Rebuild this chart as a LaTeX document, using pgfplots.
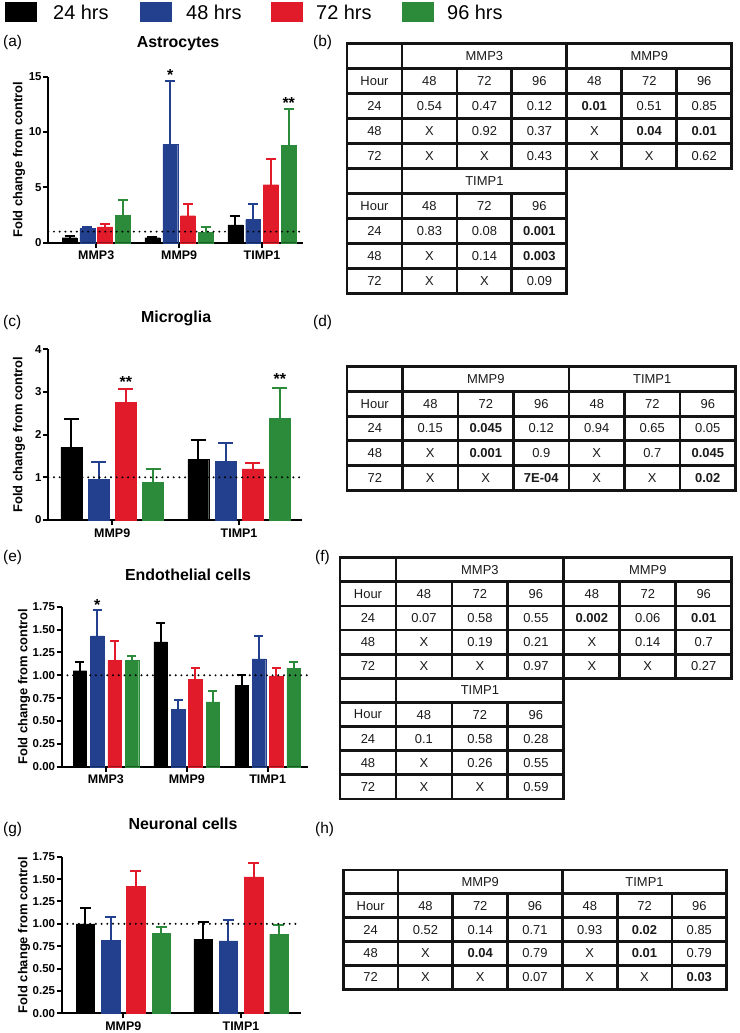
\documentclass[border=0pt]{standalone}
\usepackage{pgfplots}
\pgfplotsset{compat=1.18}
\usepackage{fontspec}
\setmainfont{Liberation Sans}
\definecolor{c24}{HTML}{000000}
\definecolor{c48}{HTML}{23408E}
\definecolor{c72}{HTML}{E21B2B}
\definecolor{c96}{HTML}{2C8B3A}
\definecolor{tabline}{HTML}{141414}
\definecolor{tabtext}{HTML}{1A1A1A}
\newcommand{\ylf}{\bfseries\fontsize{13}{13}\selectfont}
\newcommand{\xtf}{\bfseries\fontsize{12.5}{12.5}\selectfont}
\newcommand{\ytf}{\bfseries\fontsize{11.5}{11.5}\selectfont}

\pgfplotsset{
  panel/.style={
    scale only axis, ybar, enlargelimits=false, clip=false,
    axis x line*=bottom, axis y line*=left,
    axis line style={line width=2.2bp, black, -},
    tick align=outside, major tick length=5bp,
    tick style={line width=2bp, black},
    xtick={0,1,2},
    yticklabel style={font=\ytf, inner sep=1.5bp},
    xticklabel style={font=\xtf},
    ylabel={\ylf Fold change from control},
    ylabel style={font=\ylf, anchor=center},
    title style={font=\bfseries\fontsize{16}{16}\selectfont, at={(axis description cs:0.5,1)}, anchor=center},
  },
  eb/.style={error bars/.cd, y dir=plus, y explicit,
    error bar style={line width=2bp, draw=#1},
    error mark options={rotate=90, line width=2bp, draw=#1, mark size=\capsize}},
  b24/.style={fill=c24, draw=c24, bar shift=-0.322, eb=c24},
  b48/.style={fill=c48, draw=c48, bar shift=-0.107, eb=c48},
  b72/.style={fill=c72, draw=c72, bar shift=0.107, eb=c72},
  b96/.style={fill=c96, draw=c96, bar shift=0.322, eb=c96},
  refline/.style={sharp plot, draw=black, line width=2.2bp, dash pattern=on 0bp off 5.7bp, line cap=round, forget plot},
}
\newcommand{\capsize}{5bp}
\newcommand{\trow}[8]{\node at (0.5,#1+0.5) {#2}; \node at (1.5,#1+0.5) {#3}; \node at (2.5,#1+0.5) {#4}; \node at (3.5,#1+0.5) {#5}; \node at (4.5,#1+0.5) {#6}; \node at (5.5,#1+0.5) {#7}; \node at (6.5,#1+0.5) {#8};}
\newcommand{\trowf}[5]{\node at (0.5,#1+0.5) {#2}; \node at (1.5,#1+0.5) {#3}; \node at (2.5,#1+0.5) {#4}; \node at (3.5,#1+0.5) {#5};}
\newcommand{\biggrid}{%
  \foreach \r in {0,...,5} \draw (0,\r) -- (7,\r);
  \foreach \r in {6,...,10} \draw (0,\r) -- (4,\r);
  \foreach \c in {0,1,4} \draw (\c,0) -- (\c,10);
  \draw (7,0) -- (7,5);
  \foreach \c in {2,3} {\draw (\c,1) -- (\c,5); \draw (\c,6) -- (\c,10);}
  \foreach \c in {5,6} \draw (\c,1) -- (\c,5);
}
\newcommand{\smallgrid}{%
  \foreach \r in {0,...,5} \draw (0,\r) -- (7,\r);
  \foreach \c in {0,1,4,7} \draw (\c,0) -- (\c,5);
  \foreach \c in {2,3,5,6} \draw (\c,1) -- (\c,5);
}
\tikzset{tab/.style={line width=2.8bp, draw=tabline, line cap=rect,
  nodes={font=\fontsize{13}{13}\selectfont, inner sep=0pt, text=tabtext}},
  plab/.style={anchor=west, inner sep=0pt, font=\fontsize{15.5}{15.5}\selectfont},
  star/.style={font=\bfseries\fontsize{16}{16}\selectfont, yshift=-3.4bp}}

\begin{document}
\begin{tikzpicture}
\path[use as bounding box] (0,0) rectangle (740bp,-1033bp);

% legend
\fill[c24] (5bp,-2bp) rectangle (37bp,-22bp);
\node[anchor=west, inner sep=0pt, font=\fontsize{20}{20}\selectfont] at (53bp,-12bp) {24 hrs};
\fill[c48] (140bp,-2bp) rectangle (172bp,-22bp);
\node[anchor=west, inner sep=0pt, font=\fontsize{20}{20}\selectfont] at (186bp,-12bp) {48 hrs};
\fill[c72] (271bp,-2bp) rectangle (303bp,-22bp);
\node[anchor=west, inner sep=0pt, font=\fontsize{20}{20}\selectfont] at (316bp,-12bp) {72 hrs};
\fill[c96] (402bp,-2bp) rectangle (434bp,-22bp);
\node[anchor=west, inner sep=0pt, font=\fontsize{20}{20}\selectfont] at (447bp,-12bp) {96 hrs};

% panel labels
\node[plab] at (3bp,-43bp) {(a)};
\node[plab] at (313bp,-43bp) {(b)};
\node[plab] at (3bp,-322bp) {(c)};
\node[plab] at (313bp,-322bp) {(d)};
\node[plab] at (3bp,-557bp) {(e)};
\node[plab] at (315bp,-557bp) {(f)};
\node[plab] at (3bp,-829bp) {(g)};
\node[plab] at (315bp,-829bp) {(h)};

% (a) Astrocytes
\renewcommand{\capsize}{5bp}
\begin{axis}[panel, at={(48.3bp,-242.7bp)}, anchor=south west,
  width=254.7bp, height=166bp, xmin=-0.578, xmax=2.494, ymin=0, ymax=15,
  ytick={0,5,10,15}, yticklabels={0,5,10,15}, xticklabels={MMP3,MMP9,TIMP1},
  bar width=0.18, title={Astrocytes}, title style={yshift=26.7bp, xshift=2.4bp},
  ylabel style={at={(axis description cs:-0.115,0.5)}}]
\addplot[b24] coordinates {(0,0.45) +- (0,0.15) (1,0.45) +- (0,0.1) (2,1.6) +- (0,0.78)};
\addplot[b48] coordinates {(0,1.27) +- (0,0.18) (1,8.86) +- (0,5.78) (2,2.08) +- (0,1.42)};
\addplot[b72] coordinates {(0,1.42) +- (0,0.28) (1,2.44) +- (0,1.06) (2,5.24) +- (0,2.36)};
\addplot[b96] coordinates {(0,2.5) +- (0,1.35) (1,0.93) +- (0,0.52) (2,8.8) +- (0,3.25)};
\addplot[refline] coordinates {(-0.578,1) (2.494,1)};
\node[star] at (axis cs:0.893,15.45) {*};
\node[star] at (axis cs:2.322,12.9) {**};
\end{axis}

% (c) Microglia
\renewcommand{\capsize}{7.5bp}
\begin{axis}[panel, at={(48.3bp,-520bp)}, anchor=south west,
  width=253.7bp, height=170.7bp, xmin=-0.504, xmax=1.496, ymin=0, ymax=4,
  ytick={0,1,2,3,4}, yticklabels={0,1,2,3,4}, xtick={0,1}, xticklabels={MMP9,TIMP1},
  bar width=0.165, title={Microglia}, title style={yshift=25.3bp, xshift=1bp},
  ylabel style={at={(axis description cs:-0.1155,0.5)}}]
\addplot[b24] coordinates {(0,1.70) +- (0,0.66) (1,1.42) +- (0,0.46)};
\addplot[b48] coordinates {(0,0.96) +- (0,0.39) (1,1.375) +- (0,0.425)};
\addplot[b72] coordinates {(0,2.76) +- (0,0.31) (1,1.2) +- (0,0.13)};
\addplot[b96] coordinates {(0,0.89) +- (0,0.31) (1,2.39) +- (0,0.71)};
\addplot[refline] coordinates {(-0.504,1) (1.496,1)};
\node[star] at (axis cs:0.107,3.32) {**};
\node[star] at (axis cs:1.322,3.39) {**};
\end{axis}

% (e) Endothelial cells
\renewcommand{\capsize}{4.5bp}
\begin{axis}[panel, at={(61.7bp,-766.7bp)}, anchor=south west,
  width=246bp, height=160bp, xmin=-0.547, xmax=2.496, ymin=0, ymax=1.75,
  ytick={0,0.25,0.5,0.75,1,1.25,1.5,1.75}, yticklabels={0.00,0.25,0.50,0.75,1.00,1.25,1.50,1.75},
  xticklabels={MMP3,MMP9,TIMP1},
  bar width=0.167, title={Endothelial cells}, title style={yshift=25.7bp, xshift=3.3bp},
  ylabel style={at={(axis description cs:-0.153,0.5)}}]
\addplot[b24] coordinates {(0,1.05) +- (0,0.09) (1,1.366) +- (0,0.21) (2,0.888) +- (0,0.11)};
\addplot[b48] coordinates {(0,1.43) +- (0,0.28) (1,0.627) +- (0,0.108) (2,1.18) +- (0,0.255)};
\addplot[b72] coordinates {(0,1.16) +- (0,0.21) (1,0.952) +- (0,0.128) (2,0.985) +- (0,0.1)};
\addplot[b96] coordinates {(0,1.167) +- (0,0.045) (1,0.71) +- (0,0.117) (2,1.077) +- (0,0.068)};
\addplot[refline] coordinates {(-0.547,1) (2.496,1)};
\node[star] at (axis cs:-0.107,1.81) {*};
\end{axis}

% (g) Neuronal cells
\renewcommand{\capsize}{5.5bp}
\begin{axis}[panel, at={(61.7bp,-1013.3bp)}, anchor=south west,
  width=239bp, height=156.6bp, xmin=-0.523, xmax=1.507, ymin=0, ymax=1.75,
  ytick={0,0.25,0.5,0.75,1,1.25,1.5,1.75}, yticklabels={0.00,0.25,0.50,0.75,1.00,1.25,1.50,1.75},
  xtick={0,1}, xticklabels={MMP9,TIMP1},
  bar width=0.156, title={Neuronal cells}, title style={yshift=26.7bp, xshift=1.8bp},
  ylabel style={at={(axis description cs:-0.158,0.5)}}]
\addplot[b24] coordinates {(0,1.0) +- (0,0.18) (1,0.83) +- (0,0.19)};
\addplot[b48] coordinates {(0,0.815) +- (0,0.26) (1,0.81) +- (0,0.23)};
\addplot[b72] coordinates {(0,1.42) +- (0,0.165) (1,1.525) +- (0,0.15)};
\addplot[b96] coordinates {(0,0.89) +- (0,0.07) (1,0.883) +- (0,0.1)};
\addplot[refline] coordinates {(-0.523,1) (1.507,1)};
\end{axis}

% (b) table
\begin{scope}[shift={(347bp,-43.3bp)}, x=54.96bp, y=-25bp, tab]
\biggrid
\node at (2.5,0.5) {MMP3}; \node at (5.5,0.5) {MMP9};
\trow{1}{Hour}{48}{72}{96}{48}{72}{96}
\trow{2}{24}{0.54}{0.47}{0.12}{\textbf{0.01}}{0.51}{0.85}
\trow{3}{48}{X}{0.92}{0.37}{X}{\textbf{0.04}}{\textbf{0.01}}
\trow{4}{72}{X}{X}{0.43}{X}{X}{0.62}
\node at (2.5,5.5) {TIMP1};
\trowf{6}{Hour}{48}{72}{96}
\trowf{7}{24}{0.83}{0.08}{\textbf{0.001}}
\trowf{8}{48}{X}{0.14}{\textbf{0.003}}
\trowf{9}{72}{X}{X}{0.09}
\end{scope}

% (d) table
\begin{scope}[shift={(347bp,-366.7bp)}, x=55.5bp, y=-24.7bp, tab]
\smallgrid
\node at (2.5,0.5) {MMP9}; \node at (5.5,0.5) {TIMP1};
\trow{1}{Hour}{48}{72}{96}{48}{72}{96}
\trow{2}{24}{0.15}{\textbf{0.045}}{0.12}{0.94}{0.65}{0.05}
\trow{3}{48}{X}{\textbf{0.001}}{0.9}{X}{0.7}{\textbf{0.045}}
\trow{4}{72}{X}{X}{\textbf{7E-04}}{X}{X}{\textbf{0.02}}
\end{scope}

% (f) table
\begin{scope}[shift={(340bp,-557.7bp)}, x=55.96bp, y=-24.13bp, tab]
\biggrid
\node at (2.5,0.5) {MMP3}; \node at (5.5,0.5) {MMP9};
\trow{1}{Hour}{48}{72}{96}{48}{72}{96}
\trow{2}{24}{0.07}{0.58}{0.55}{\textbf{0.002}}{0.06}{\textbf{0.01}}
\trow{3}{48}{X}{0.19}{0.21}{X}{0.14}{0.7}
\trow{4}{72}{X}{X}{0.97}{X}{X}{0.27}
\node at (2.5,5.5) {TIMP1};
\trowf{6}{Hour}{48}{72}{96}
\trowf{7}{24}{0.1}{0.58}{0.28}
\trowf{8}{48}{X}{0.26}{0.55}
\trowf{9}{72}{X}{X}{0.59}
\end{scope}

% (h) table
\begin{scope}[shift={(343.3bp,-870bp)}, x=54.77bp, y=-23.86bp, tab]
\smallgrid
\node at (2.5,0.5) {MMP9}; \node at (5.5,0.5) {TIMP1};
\trow{1}{Hour}{48}{72}{96}{48}{72}{96}
\trow{2}{24}{0.52}{0.14}{0.71}{0.93}{\textbf{0.02}}{0.85}
\trow{3}{48}{X}{\textbf{0.04}}{0.79}{X}{\textbf{0.01}}{0.79}
\trow{4}{72}{X}{X}{0.07}{X}{X}{\textbf{0.03}}
\end{scope}
\end{tikzpicture}
\end{document}
